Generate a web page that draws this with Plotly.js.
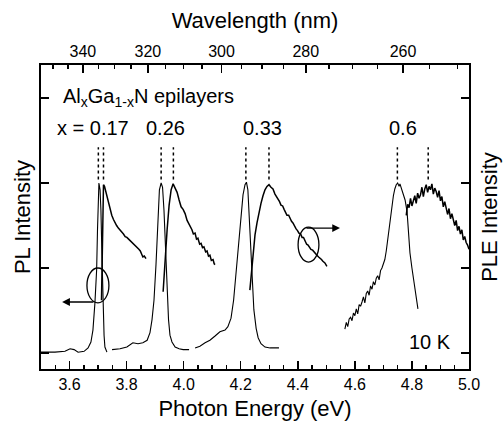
<!DOCTYPE html>
<html>
<head>
<meta charset="utf-8">
<script src="https://cdn.plot.ly/plotly-3.0.1.min.js"></script>
<style>html,body{margin:0;padding:0;background:#fff;}#chart{width:504px;height:432px;}</style>
</head>
<body>
<div id="chart"></div>
<script>
// ---- PL spectra (left axis) ----
const plE_017 = [3.500,3.549,3.584,3.602,3.616,3.630,3.651,3.665,3.675,3.682,3.689,3.695,3.698,3.701,3.703,3.707,3.710,3.714,3.717,3.721,3.724,3.731];
const plI_017 = [0.01,0.01,0.02,0.05,0.04,0.01,0.02,0.06,0.13,0.27,0.59,0.98,1.45,1.92,2.00,1.92,1.68,1.09,0.51,0.21,0.07,0.01];

const plE_026 = [3.749,3.777,3.801,3.822,3.840,3.857,3.872,3.882,3.889,3.896,3.903,3.910,3.915,3.921,3.926,3.931,3.936,3.942,3.947,3.952,3.959,3.970,3.984,3.998,4.019];
const plI_026 = [0.04,0.05,0.07,0.12,0.11,0.12,0.15,0.24,0.39,0.62,1.04,1.62,1.92,2.00,1.95,1.68,1.21,0.74,0.39,0.21,0.13,0.07,0.05,0.04,0.04];

const plE_033 = [4.040,4.057,4.075,4.092,4.110,4.127,4.145,4.155,4.166,4.175,4.183,4.192,4.201,4.208,4.215,4.220,4.225,4.230,4.236,4.241,4.246,4.254,4.261,4.271,4.285,4.303,4.334];
const plI_033 = [0.06,0.08,0.12,0.15,0.20,0.25,0.27,0.31,0.41,0.62,0.92,1.27,1.62,1.86,1.98,2.01,1.92,1.62,1.21,0.80,0.51,0.29,0.18,0.11,0.07,0.06,0.06];

const plE_060 = [4.565,4.570,4.575,4.580,4.585,4.590,4.595,4.600,4.605,4.610,4.615,4.620,4.625,4.630,4.635,4.640,4.645,4.650,4.655,4.660,4.665,4.670,4.675,4.680,4.685,4.690,4.695,4.700,4.705,4.710,4.715,4.720,4.725,4.730,4.735,4.740,4.745,4.750,4.755,4.758,4.762,4.769,4.776,4.783,4.788,4.793,4.800,4.806,4.811,4.816,4.821];
const plI_060 = [0.28,0.36,0.31,0.40,0.42,0.38,0.47,0.44,0.52,0.46,0.57,0.55,0.60,0.66,0.59,0.70,0.73,0.68,0.79,0.75,0.84,0.80,0.88,0.91,0.86,0.97,1.00,1.04,1.10,1.20,1.33,1.48,1.62,1.75,1.85,1.93,1.98,2.00,1.96,1.99,1.95,1.89,1.80,1.66,1.45,1.18,1.00,0.87,0.74,0.62,0.52];

// ---- PLE spectra (right axis) ----
const pleE_017 = [3.712,3.715,3.717,3.719,3.7225,3.727,3.731,3.736,3.742,3.748,3.754,3.759,3.765,3.771,3.777,3.783,3.789,3.795,3.801,3.807,3.813,3.819,3.825,3.831,3.837,3.843,3.848,3.853,3.857,3.862,3.868];
const pleI_017 = [0.62,1.33,1.80,1.98,1.96,1.90,1.84,1.77,1.68,1.62,1.57,1.53,1.50,1.47,1.45,1.42,1.40,1.37,1.36,1.34,1.32,1.30,1.29,1.27,1.24,1.22,1.20,1.17,1.13,1.14,1.11];

const pleE_026 = [3.928,3.935,3.942,3.949,3.956,3.963,3.970,3.977,3.984,3.991,3.998,4.005,4.012,4.019,4.024,4.029,4.034,4.040,4.045,4.050,4.056,4.061,4.066,4.071,4.077,4.082,4.087,4.092,4.097,4.103,4.107,4.110];
const pleI_026 = [0.72,1.15,1.45,1.74,1.92,1.99,1.94,1.89,1.80,1.72,1.69,1.64,1.56,1.52,1.49,1.45,1.40,1.41,1.34,1.35,1.28,1.29,1.24,1.25,1.19,1.20,1.14,1.15,1.09,1.10,1.05,1.04];

const pleE_033 = [4.232,4.238,4.243,4.250,4.257,4.264,4.271,4.278,4.285,4.292,4.299,4.306,4.313,4.320,4.326,4.331,4.336,4.341,4.347,4.352,4.357,4.362,4.368,4.373,4.378,4.383,4.389,4.394,4.399,4.404,4.410,4.415,4.420,4.425,4.431,4.436,4.441,4.446,4.452,4.457,4.462,4.467,4.473,4.478,4.483,4.488,4.495,4.502];
const pleI_033 = [0.74,0.98,1.21,1.39,1.53,1.66,1.76,1.85,1.92,1.96,1.98,1.95,1.93,1.87,1.84,1.80,1.78,1.74,1.73,1.69,1.66,1.62,1.62,1.58,1.55,1.53,1.48,1.46,1.44,1.41,1.40,1.36,1.36,1.33,1.28,1.27,1.25,1.22,1.21,1.19,1.16,1.15,1.13,1.12,1.10,1.08,1.06,1.02];

const pleE_060 = [4.780,4.785,4.790,4.795,4.800,4.805,4.810,4.815,4.820,4.825,4.830,4.835,4.840,4.845,4.850,4.855,4.860,4.865,4.870,4.875,4.880,4.885,4.890,4.895,4.900,4.905,4.910,4.915,4.920,4.925,4.930,4.935,4.940,4.945,4.950,4.955,4.960,4.965,4.970,4.975,4.980,4.985,4.990,4.995,5.000];
const pleI_060 = [1.62,1.75,1.71,1.82,1.73,1.79,1.85,1.76,1.88,1.82,1.86,1.95,1.84,1.93,1.98,1.89,1.96,1.92,1.99,1.87,1.94,1.90,1.83,1.91,1.79,1.84,1.72,1.78,1.69,1.63,1.70,1.58,1.64,1.55,1.50,1.56,1.44,1.49,1.40,1.45,1.33,1.37,1.30,1.27,1.22];

// ---- peak markers (dotted lines) ----
const peakPL  = [3.701, 3.921, 4.218, 4.749];
const peakPLE = [3.719, 3.964, 4.299, 4.857];

// ---- labels ----
const sampleLabels = ['x = 0.17', '0.26', '0.33', '0.6'];
const sampleLabelE = [3.682, 3.938, 4.275, 4.769];

// ---- wavelength axis ----
const HC = 1239.84;
const wlTicks = [340, 320, 300, 280, 260];
const wlMinor = [350, 345, 335, 330, 325, 315, 310, 305, 295, 290, 285, 275, 270, 265, 255, 250];

const FONT = 'Liberation Sans, Arial, Helvetica, sans-serif';
const black = '#000';

const traces = [];
const plSets = [[plE_017, plI_017], [plE_026, plI_026], [plE_033, plI_033], [plE_060, plI_060]];
const pleSets = [[pleE_017, pleI_017], [pleE_026, pleI_026], [pleE_033, pleI_033], [pleE_060, pleI_060]];
plSets.forEach(([x, y]) => traces.push({x, y, xaxis: 'x', yaxis: 'y', mode: 'lines', line: {color: black, width: 1.1}, hoverinfo: 'skip', showlegend: false}));
pleSets.forEach(([x, y]) => traces.push({x, y, xaxis: 'x2', yaxis: 'y2', mode: 'lines', line: {color: black, width: 1.5}, hoverinfo: 'skip', showlegend: false}));

const shapes = [];
peakPL.concat(peakPLE).forEach(e => shapes.push({type: 'line', xref: 'x', yref: 'y', x0: e, x1: e, y0: 2.04, y1: 2.42, line: {color: black, width: 1.5, dash: 'dot'}}));
// circles marking which axis each curve uses
shapes.push({type: 'circle', xref: 'x', yref: 'y', x0: 3.661, x1: 3.738, y0: 0.59, y1: 1.00, line: {color: black, width: 1.3}});
shapes.push({type: 'circle', xref: 'x', yref: 'y', x0: 4.401, x1: 4.474, y0: 1.07, y1: 1.48, line: {color: black, width: 1.3}});

const annotations = [];
annotations.push({xref: 'x', yref: 'y', x: 3.571, y: 3.0, xanchor: 'left', yanchor: 'middle', showarrow: false,
  text: 'Al<sub>x</sub>Ga<sub>1-x</sub>N epilayers', font: {family: FONT, size: 20, color: black}});
sampleLabels.forEach((t, i) => annotations.push({xref: 'x', yref: 'y', x: sampleLabelE[i], y: 2.65, xanchor: 'center', yanchor: 'middle', showarrow: false,
  text: t, font: {family: FONT, size: 20, color: black}}));
annotations.push({xref: 'x', yref: 'y', x: 4.863, y: 0.13, xanchor: 'center', yanchor: 'middle', showarrow: false,
  text: '10 K', font: {family: FONT, size: 20, color: black}});
// arrows
annotations.push({xref: 'x', yref: 'y', axref: 'x', ayref: 'y', x: 3.574, y: 0.60, ax: 3.689, ay: 0.60, text: '', showarrow: true,
  arrowhead: 2, arrowsize: 1.2, arrowwidth: 1.3, arrowcolor: black, standoff: 0, startstandoff: 0});
annotations.push({xref: 'x', yref: 'y', axref: 'x', ayref: 'y', x: 4.548, y: 1.47, ax: 4.425, ay: 1.47, text: '', showarrow: true,
  arrowhead: 2, arrowsize: 1.2, arrowwidth: 1.3, arrowcolor: black, standoff: 0, startstandoff: 0});

const tickFont = {family: FONT, size: 16, color: black};
const titleFont = {family: FONT, size: 22, color: black};
const yRange = [-0.188, 3.388];

const layout = {
  width: 504, height: 432,
  margin: {l: 41, r: 35, t: 65, b: 63, pad: 0},
  paper_bgcolor: '#fff', plot_bgcolor: '#fff',
  showlegend: false,
  xaxis: {
    range: [3.5, 5.0], tickmode: 'linear', tick0: 3.6, dtick: 0.2, tickformat: '.1f',
    ticks: 'inside', ticklen: 8, tickwidth: 1.5, tickcolor: black,
    minor: {tick0: 3.5, dtick: 0.05, ticks: 'inside', ticklen: 4, tickwidth: 1.5, tickcolor: black, showgrid: false},
    showline: true, linecolor: black, linewidth: 2, mirror: false,
    showgrid: false, zeroline: false, tickfont: tickFont,
    title: {text: 'Photon Energy (eV)', font: titleFont, standoff: 8}
  },
  xaxis2: {
    overlaying: 'x', side: 'top', anchor: 'y2', matches: 'x',
    range: [3.5, 5.0], tickmode: 'array',
    tickvals: wlTicks.map(l => HC / l), ticktext: wlTicks.map(String),
    ticks: 'inside', ticklen: 8, tickwidth: 1.5, tickcolor: black,
    minor: {tickvals: wlMinor.map(l => HC / l), ticks: 'inside', ticklen: 4, tickwidth: 1.5, tickcolor: black, showgrid: false},
    showline: true, linecolor: black, linewidth: 2,
    showgrid: false, zeroline: false, tickfont: tickFont,
    title: {text: 'Wavelength (nm)', font: titleFont, standoff: 8}
  },
  yaxis: {
    range: yRange, tickmode: 'array', tickvals: [0, 1, 2, 3], showticklabels: false,
    ticks: 'inside', ticklen: 8, tickwidth: 1.5, tickcolor: black,
    showline: true, linecolor: black, linewidth: 2,
    showgrid: false, zeroline: false,
    title: {text: 'PL Intensity', font: titleFont, standoff: 2}
  },
  yaxis2: {
    overlaying: 'y', side: 'right', anchor: 'x2',
    range: yRange, tickmode: 'array', tickvals: [0, 1, 2, 3], showticklabels: false,
    ticks: 'inside', ticklen: 8, tickwidth: 1.5, tickcolor: black,
    showline: true, linecolor: black, linewidth: 2,
    showgrid: false, zeroline: false,
    title: {text: 'PLE Intensity', font: titleFont, standoff: 12}
  },
  shapes, annotations
};

Plotly.newPlot('chart', traces, layout, {staticPlot: true, displayModeBar: false});
</script>
</body>
</html>
